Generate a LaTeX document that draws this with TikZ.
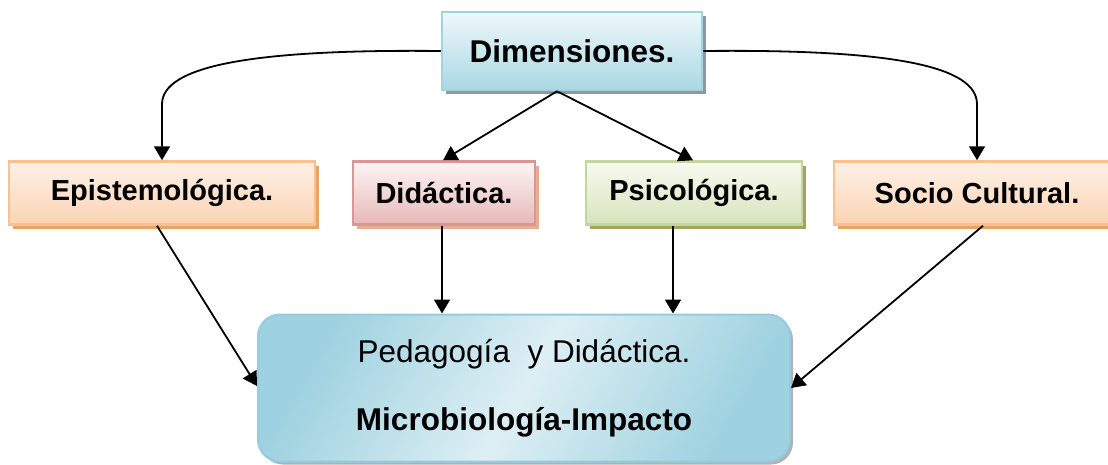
\documentclass[tikz,border=0pt]{standalone}
\usepackage{fontspec}
\setmainfont{Liberation Sans}
\usepackage{tikz}
\usetikzlibrary{arrows.meta,shadows}

\definecolor{dimtop}{HTML}{EEF8FA}
\definecolor{dimbot}{HTML}{A9D8E4}
\definecolor{dimline}{HTML}{A2D3DF}
\definecolor{peachtop}{HTML}{FDF1E7}
\definecolor{peachbot}{HTML}{FBD3B3}
\definecolor{peachline}{HTML}{FAC08F}
\definecolor{pinktop}{HTML}{FDF5F5}
\definecolor{pinkbot}{HTML}{E6B9B8}
\definecolor{pinkline}{HTML}{D99694}
\definecolor{greentop}{HTML}{F7FAF0}
\definecolor{greenbot}{HTML}{D7E4BD}
\definecolor{greenline}{HTML}{C3D69B}
\definecolor{pedmid}{HTML}{DDEFF4}
\definecolor{pededge}{HTML}{9FD2E0}
\definecolor{pedline}{HTML}{93CDDD}

\tikzset{
  box/.style={draw, line width=2.5pt, minimum height=63pt, inner sep=0pt,
    font=\fontsize{29}{32}\selectfont\bfseries},
  dimbox/.style={box, minimum width=260pt, minimum height=78pt, draw=dimline,
    top color=dimtop, bottom color=dimbot, font=\fontsize{31.5}{34}\selectfont\bfseries,
    drop shadow={shadow xshift=4pt, shadow yshift=-4pt, fill=gray!70!cyan!60!black!70, opacity=1}},
  peachbox/.style={box, draw=peachline, top color=peachtop, bottom color=peachbot,
    drop shadow={shadow xshift=4pt, shadow yshift=-4pt, fill=brown!60!orange!70, opacity=1}},
  pinkbox/.style={box, draw=pinkline, top color=pinktop, bottom color=pinkbot,
    drop shadow={shadow xshift=4pt, shadow yshift=-4pt, fill=brown!55!pink!80, opacity=1}},
  greenbox/.style={box, draw=greenline, top color=greentop, bottom color=greenbot,
    drop shadow={shadow xshift=4pt, shadow yshift=-4pt, fill=olive!50!gray!80, opacity=1}},
  arr/.style={line width=1.8pt, -{Triangle[length=14pt,width=16pt]}}
}

\begin{document}
\begin{tikzpicture}[x=1pt,y=-1pt]
\clip (0,0) rectangle (1108,464);

%%% top
\node[dimbox] (dim) at (572,51) {Dimensiones.};

%%% middle row
\node[peachbox, minimum width=306pt] (epi) at (162,193) {Epistemológica.};
\node[pinkbox, minimum width=182pt] (did) at (444,193) {Didáctica.};
\node[greenbox, minimum width=216pt] (psi) at (694,193) {Psicológica.};
\node[peachbox, minimum width=286pt] (soc) at (977,193) {Socio Cultural.};

%%% bottom
\node[draw=pedline, line width=2pt, rounded corners=22pt, minimum width=532pt,
  minimum height=147pt, align=center, font=\fontsize{31.5}{68}\selectfont,
  left color=pededge, right color=pededge, middle color=pedmid, shading angle=60,
  drop shadow={shadow xshift=3pt, shadow yshift=-3pt, fill=gray!60, opacity=1}]
  (ped) at (524,388) {Pedagogía\ \ y Didáctica.\\ \textbf{Microbiología-Impacto}};

%%% connectors
\draw[arr] (dim.west) .. controls +(-190,-2) and +(0,-38) .. ([yshift=56pt]epi.north) -- (epi.north);
\draw[arr] (dim.east) .. controls +(190,-2) and +(0,-38) .. ([yshift=56pt]soc.north) -- (soc.north);
\draw[arr] ([xshift=-15pt]dim.south) -- ([xshift=-1pt]did.north);
\draw[arr] ([xshift=-15pt]dim.south) -- ([xshift=-1pt]psi.north);

\draw[arr] ([xshift=-5pt]epi.south) -- ([yshift=2pt]ped.west);
\draw[arr] ([xshift=-2pt]did.south) -- ([xshift=-2pt]did.south |- ped.north);
\draw[arr] ([xshift=-21pt]psi.south) -- ([xshift=-21pt]psi.south |- ped.north);
\draw[arr] ([xshift=6pt]soc.south) -- (ped.east);
\end{tikzpicture}
\end{document}
